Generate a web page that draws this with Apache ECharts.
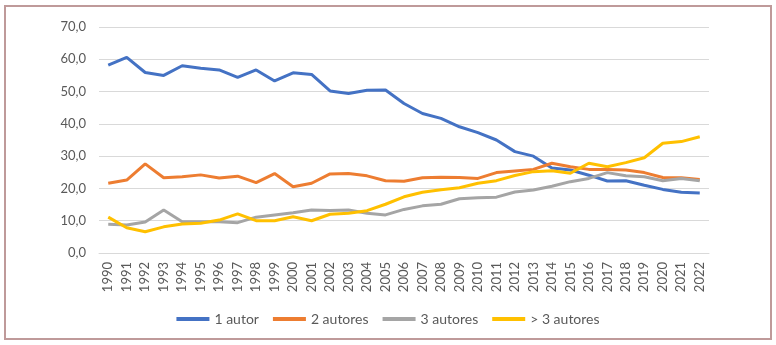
<!DOCTYPE html>
<html>
<head>
<meta charset="utf-8">
<script src="https://cdn.jsdelivr.net/npm/echarts@6/dist/echarts.min.js"></script>
<style>
  html, body { margin: 0; padding: 0; background: #fff; }
  #frame { position: absolute; left: 4px; top: 5px; width: 764px; height: 331px; border: 2px solid #bf9a9a; }
  #chart { position: absolute; left: 0; top: 0; width: 776px; height: 345px; }
</style>
</head>
<body>
<div id="frame"></div>
<div id="chart"></div>
<script>
const years = ['1990','1991','1992','1993','1994','1995','1996','1997','1998','1999','2000','2001','2002','2003','2004','2005','2006','2007','2008','2009','2010','2011','2012','2013','2014','2015','2016','2017','2018','2019','2020','2021','2022']
const umAutor = [58.2,60.6,55.9,55.0,58.0,57.2,56.7,54.4,56.7,53.3,55.8,55.3,50.2,49.4,50.4,50.5,46.3,43.2,41.7,39.1,37.3,35.0,31.4,30.0,26.3,25.7,24.1,22.3,22.4,21.0,19.7,18.8,18.6]
const doisAutores = [21.6,22.6,27.6,23.3,23.6,24.2,23.2,23.8,21.8,24.6,20.5,21.6,24.5,24.6,23.9,22.4,22.2,23.3,23.5,23.4,23.1,24.9,25.4,25.9,27.8,26.7,25.9,25.9,25.7,24.9,23.4,23.3,22.8]
const tresAutores = [8.9,8.7,9.6,13.3,9.7,9.7,9.7,9.4,11.1,11.8,12.5,13.3,13.2,13.3,12.3,11.8,13.5,14.6,15.1,16.8,17.1,17.3,18.9,19.5,20.7,22.1,23.1,24.9,23.9,23.6,22.4,23.1,22.4]
const maisAutores = [11.1,7.8,6.6,8.1,9.0,9.2,10.2,12.1,10.0,10.0,11.2,10.0,12.0,12.3,13.1,15.1,17.4,18.8,19.6,20.2,21.6,22.4,24.0,25.2,25.5,24.7,27.8,26.7,28.0,29.5,34.0,34.5,36.0]
const seriesNames = ['1 autor', '2 autores', '3 autores', '> 3 autores']
const colors = ['#4472C4', '#ED7D31', '#A5A5A5', '#FFC000']

let myChart = echarts.init(document.getElementById('chart'))
let seriesData = []
let values = [umAutor, doisAutores, tresAutores, maisAutores]
for (let i = 0; i < seriesNames.length; i++) {
    seriesData.push({
        name: seriesNames[i], type: 'line', symbol: 'none', smooth: false,
        lineStyle: { width: 3, color: colors[i] }, itemStyle: { color: colors[i] },
        data: values[i]
    })
}
let option = {
    animation: false,
    color: colors,
    textStyle: { fontFamily: 'Lato' },
    grid: { left: 99, right: 67, top: 27, bottom: 92 },
    legend: {
        left: 'center',
        top: 307,
        icon: 'rect',
        itemWidth: 33,
        itemHeight: 4,
        itemGap: 14,
        textStyle: { color: '#595959', fontSize: 14, fontFamily: 'Lato' },
        data: seriesNames
    },
    xAxis: {
        type: 'category',
        boundaryGap: true,
        data: years,
        axisLine: { lineStyle: { color: '#d9d9d9', width: 1 } },
        axisTick: { show: false },
        axisLabel: { rotate: 90, interval: 0, margin: 9, color: '#595959', fontSize: 13, fontFamily: 'Lato' }
    },
    yAxis: {
        type: 'value',
        min: 0, max: 70, interval: 10,
        axisLine: { show: false },
        axisTick: { show: false },
        splitLine: { lineStyle: { color: '#d9d9d9', width: 1 } },
        axisLabel: {
            margin: 13, color: '#595959', fontSize: 13, fontFamily: 'Lato',
            formatter: v => v.toFixed(1).replace('.', ',')
        }
    },
    series: seriesData
}
myChart.setOption(option)
</script>
</body>
</html>
